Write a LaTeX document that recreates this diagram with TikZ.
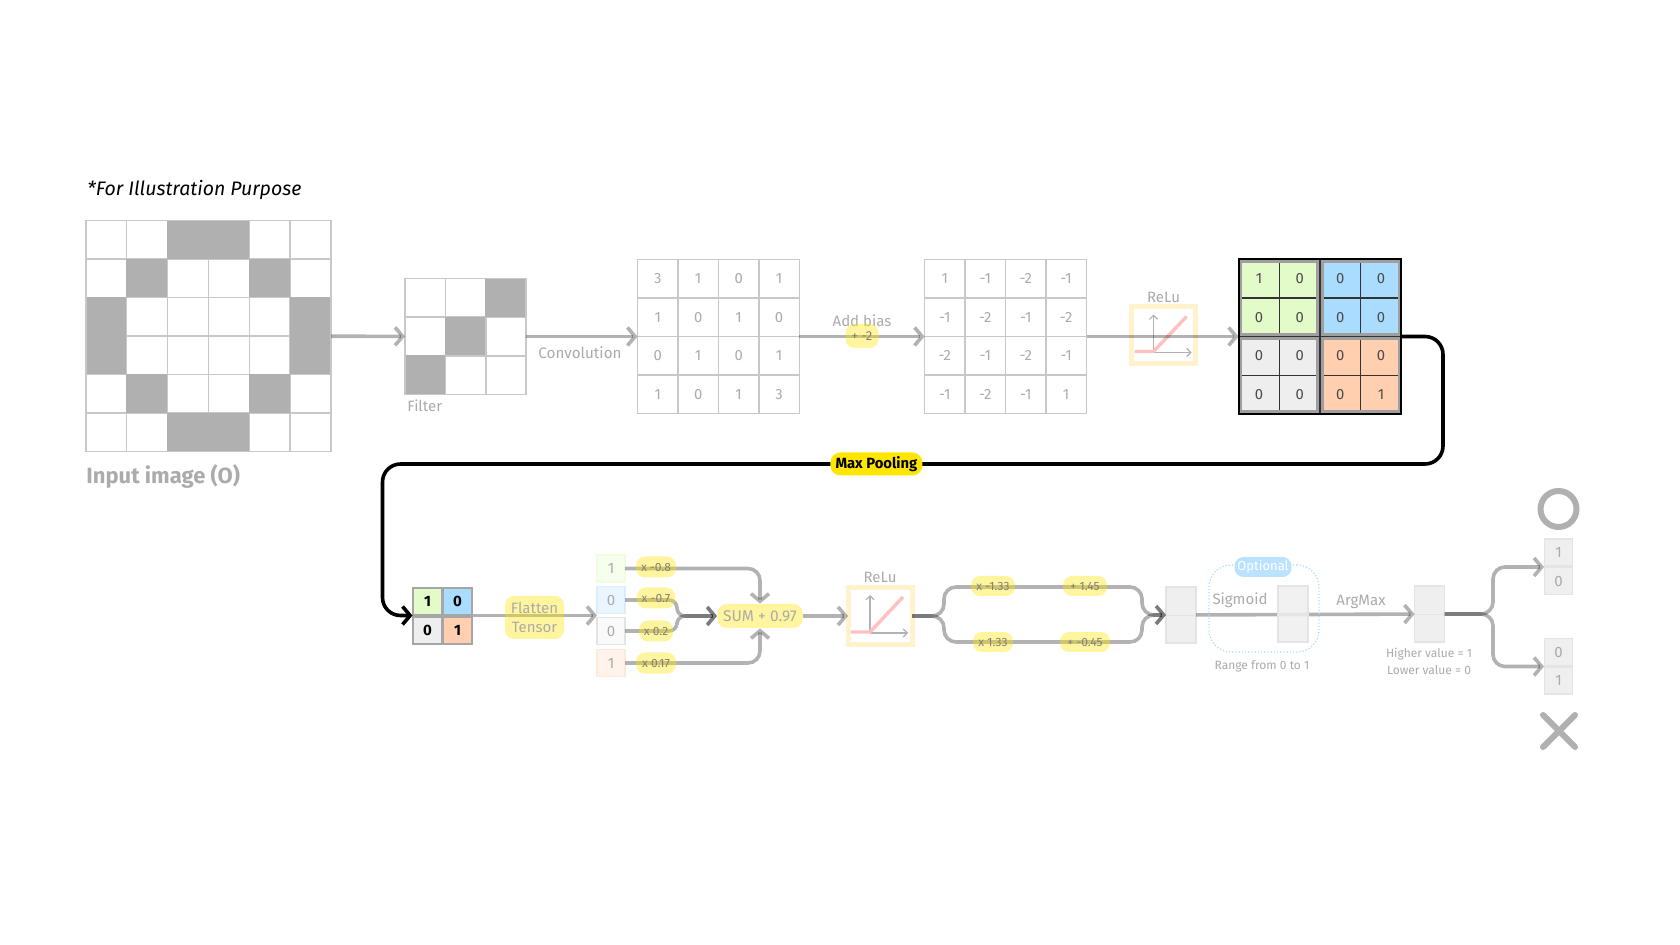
\documentclass[tikz,border=0pt]{standalone}
\usepackage{fontspec}
\setmainfont{Fira Sans}
\usetikzlibrary{arrows.meta, positioning}
\definecolor{inkgray}{HTML}{ABABAB}
\definecolor{gridline}{HTML}{C8C8C8}
\definecolor{cellgray}{HTML}{B0B0B0}
\definecolor{paleline}{HTML}{E4E4E4}
\definecolor{paper}{HTML}{EFEFEF}
\definecolor{leaf}{HTML}{E2FBC8}
\definecolor{sky}{HTML}{AADCFF}
\definecolor{stone}{HTML}{EEEEEE}
\definecolor{peach}{HTML}{FFCFB0}
\definecolor{marker}{HTML}{FFE600}
\definecolor{cream}{HTML}{FFF2CC}
\definecolor{pinkline}{HTML}{FFC0C0}

\begin{document}
\begin{tikzpicture}[x=0.5pt, y=-0.5pt,
    cell/.style={rectangle, draw=gridline, line width=0.7pt, minimum width=20.2pt, minimum height=19.2pt, inner sep=0pt, outer sep=0pt, text=inkgray, font=\fontsize{7.4}{8}\selectfont},
    pix0/.style={fill=white},
    pix1/.style={fill=cellgray, draw=cellgray},
    frame/.style={rectangle, draw=#1, line width=0.7pt, inner sep=0pt, outer sep=0pt},
    group/.style={rectangle, draw=gray!75, line width=1.5pt, minimum width=38.6pt, minimum height=36.8pt},
    small/.style={rectangle, draw=gray!70, line width=0.7pt, minimum width=14.5pt, minimum height=13.5pt, inner sep=0pt, font=\fontsize{7.5}{8}\selectfont\bfseries},
    pale/.style={rectangle, draw=#1, line width=0.8pt, minimum width=14pt, minimum height=13.6pt, inner sep=0pt, outer sep=0pt, text=inkgray, font=\fontsize{7.5}{8}\selectfont},
    column/.style={rectangle, draw=paleline, fill=paper, line width=0.7pt, minimum width=15pt, minimum height=28pt, inner sep=0pt, outer sep=0pt},
    flow/.style={draw=black, draw opacity=0.3, line width=1.8pt, rounded corners=6pt, -{Straight Barb[length=3.8pt, width=9pt, line width=1.8pt]}},
    caption/.style={text=inkgray, inner sep=0pt, font=\fontsize{#1}{#1}\selectfont},
    caption/.default=7.5,
    tag/.style={rectangle, rounded corners=4.5pt, fill=marker, fill opacity=0.38, text opacity=1, text=gray, inner sep=1.5pt, font=\fontsize{6}{6.5}\selectfont},
    activation/.style={rectangle, draw=cream, fill=white, line width=2.5pt, minimum width=32pt, minimum height=28.5pt, outer sep=0pt}
]
\fill[white] (0,0) rectangle (1680,945);

\node[anchor=west, inner sep=0pt, font=\fontsize{9.75}{10}\selectfont\itshape] (note) at (87,190) {*For Illustration Purpose};

% input image and filter
\foreach \v [count=\i from 0] in {0,0,1,1,0,0, 0,1,0,0,1,0, 1,0,0,0,0,1, 1,0,0,0,0,1, 0,1,0,0,1,0, 0,0,1,1,0,0}
    \node[cell, pix\v, minimum width=20.4pt] (input-\i) at ({85.7+40.9*(mod(\i,6)+.5)}, {220.7+38.5*(int(\i/6)+.5)}) {};
\node[frame=gridline, minimum width=122.6pt, minimum height=115.5pt] (input) at (208.4,336) {};
\node[caption=11, anchor=west, font=\fontsize{11}{11}\selectfont\bfseries] (inputlabel) at (86,476) {Input image (O)};

\foreach \v [count=\i from 0] in {0,0,1, 0,1,0, 1,0,0}
    \node[cell, pix\v] (filter-\i) at ({405+40.4*(mod(\i,3)+.5)}, {278.6+38.6*(int(\i/3)+.5)}) {};
\node[frame=gridline, minimum width=60.5pt, minimum height=57.8pt] (filter) at (465.5,336.5) {};
\node[caption, anchor=west] (filterlabel) at (407,406) {Filter};
\node[caption=7.6] (convlabel) at (580,353) {Convolution};

% convolved and biased grids
\foreach \v [count=\i from 0] in {3,1,0,1, 1,0,1,0, 0,1,0,1, 1,0,1,3}
    \node[cell] (conv-\i) at ({637.5+40.45*(mod(\i,4)+.5)}, {259.3+38.6*(int(\i/4)+.5)}) {\v};
\node[frame=gridline, minimum width=81pt, minimum height=77.2pt] (conv) at (718.4,336.5) {};

\foreach \v [count=\i from 0] in {1,-1,-2,-1, -1,-2,-1,-2, -2,-1,-2,-1, -1,-2,-1,1}
    \node[cell] (biased-\i) at ({924.6+40.45*(mod(\i,4)+.5)}, {259.3+38.6*(int(\i/4)+.5)}) {\v};
\node[frame=gridline, minimum width=81pt, minimum height=77.2pt] (biased) at (1005.5,336.5) {};

% rectified grid
\foreach \v/\tone [count=\i from 0] in {1/leaf,0/leaf,0/sky,0/sky, 0/leaf,0/leaf,0/sky,0/sky, 0/stone,0/stone,0/peach,0/peach, 0/stone,0/stone,0/peach,1/peach}
    \node[cell, draw=black!80, line width=0.4pt, fill=\tone, text=black!70] (rect-\i) at ({1238.6+40.7*(mod(\i,4)+.5)}, {259.3+38.6*(int(\i/4)+.5)}) {\v};
\foreach \gx/\gy [count=\i] in {1279.3/298, 1360.7/298, 1279.3/375.2, 1360.7/375.2}
    \node[group] (rectgroup-\i) at (\gx,\gy) {};
\node[frame=black, line width=1pt, minimum width=81.4pt, minimum height=77.2pt] (rectified) at (1320,336.5) {};

% activation boxes
\node[activation] (relua) at (1163.5,335.5) {};
\node[activation] (relub) at (880,616) {};
\foreach \b in {relua, relub} {
    \begin{scope}[shift={(\b)}]
        \draw[gray!60, line width=0.6pt, -{Straight Barb[length=2pt, width=4pt]}] (-10,17) -- (-10,-21);
        \draw[gray!60, line width=0.6pt, -{Straight Barb[length=2pt, width=4pt]}] (-10,17) -- (28,17);
        \draw[pinkline, line width=1.7pt] (-29,16) -- (-10,16) -- (23,-19);
    \end{scope}
}
\node[caption, above=1.8pt of relua] (reluatext) {ReLu};
\node[caption, above=2.4pt of relub] (relubtext) {ReLu};

% first row connectors
\draw[flow] (input) -- (filter);
\draw[flow] (filter) -- (conv);
\draw[flow] (conv) -- (biased);
\draw[flow] (biased) -- (rectified);
\node[caption] (biaslabel) at (862,321) {Add bias};
\node[tag, minimum width=16.5pt, minimum height=12pt, font=\fontsize{6.5}{7}\selectfont] (bias) at (862,336) {+ -2};

% pooled grid
\node[small, fill=leaf] (pool-1) at (427.5,601.5) {1};
\node[small, fill=sky] (pool-2) at (457.5,601.5) {0};
\node[small, fill=stone] (pool-3) at (427.5,630.5) {0};
\node[small, fill=peach] (pool-4) at (457.5,630.5) {1};
\path (412.5,615.5) coordinate (poolin) (472.5,615.5) coordinate (poolout);

\coordinate (turnright) at (1443,464);
\coordinate (turnleft) at (382.5,464);
\draw[black, line width=1.8pt, rounded corners=9pt, -{Straight Barb[length=3.8pt, width=9pt, line width=1.8pt]}] (rectified) -| (turnright) -- (turnleft) |- (poolin);
\node[rectangle, rounded corners=5pt, fill=marker, inner sep=0pt, minimum width=46pt, minimum height=11.5pt, font=\fontsize{7.4}{8}\selectfont\bfseries] (maxpool) at (876.4,464) {Max Pooling};

% flattened tensor
\node[pale=leaf!55, fill=leaf!30] (flat-1) at (611,568.5) {1};
\node[pale=sky!45, fill=sky!25] (flat-2) at (611,600) {0};
\node[pale=paleline, fill=stone!30] (flat-3) at (611,631) {0};
\node[pale=peach!45, fill=peach!25] (flat-4) at (611,663) {1};
\coordinate (flatin) at (597,615.5);
\draw[flow] (poolout) -- (flatin);
\node[tag, text=inkgray, align=center, minimum width=29.5pt, minimum height=21.5pt, font=\fontsize{7.5}{9.8}\selectfont] (flatten) at (534.5,617.5) {Flatten\\Tensor};

\node[tag, text=inkgray, minimum width=42.5pt, minimum height=12pt, font=\fontsize{7.8}{8}\selectfont] (sum) at (760,616) {SUM + 0.97};
\coordinate (sumfork) at (677,616);
\draw[flow] (flat-1.east) -| (sum.north);
\draw[flow] (flat-4.east) -| (sum.south);
\draw[flow, rounded corners=4pt] (flat-2.east) -| (sumfork) -- (sum.west);
\draw[flow, rounded corners=4pt] (flat-3.east) -| (sumfork) -- (sum.west);
\draw[flow] (sum) -- (relub);
\node[tag, minimum width=20pt, minimum height=10.5pt] (w1) at (656,567) {x -0.8};
\node[tag, minimum width=19pt, minimum height=10.5pt] (w2) at (656,598) {x -0.7};
\node[tag, minimum width=17pt, minimum height=10.5pt] (w3) at (656,631) {x 0.2};
\node[tag, minimum width=20pt, minimum height=10.5pt] (w4) at (656,663) {x 0.17};

% dense layer
\node[column] (cola) at (1181,615) {};
\draw[paleline] (cola.west) -- (cola.east);
\coordinate (upleft) at (944,587);
\coordinate (upright) at (1142,615);
\coordinate (lowleft) at (944,642);
\coordinate (lowright) at (1142,615);
\draw[flow] (relub.east) -| (upleft) -| (upright) -- (cola.west);
\draw[flow] (relub.east) -| (lowleft) -| (lowright) -- (cola.west);
\node[tag, minimum width=22pt, minimum height=10pt] (d1) at (993,586) {x -1.33};
\node[tag, minimum width=22pt, minimum height=10pt] (d2) at (1085,586) {+ 1.45};
\node[tag, minimum width=20pt, minimum height=10pt] (d3) at (993,642) {x 1.33};
\node[tag, minimum width=25pt, minimum height=10pt] (d4) at (1085,642) {+ -0.45};

% sigmoid and argmax
\node[column] (colc) at (1429.5,614) {};
\draw[paleline] (colc.west) -- (colc.east);
\draw[flow] (cola) -- (colc);
\node[column, fill opacity=0.85] (colb) at (1293,614) {};
\draw[paleline] (colb.west) -- (colb.east);
\node[rectangle, draw=sky, densely dotted, line width=0.6pt, rounded corners=11pt, minimum width=55pt, minimum height=43.5pt] (optionalbox) at (1264,608.5) {};
\node[rectangle, rounded corners=4.5pt, fill=sky!80, text=white, inner sep=0pt, minimum width=28.5pt, minimum height=10pt, font=\fontsize{6.5}{7}\selectfont] (optional) at (1263,567) {Optional};
\node[caption] (sigmoid) at (1240,600) {Sigmoid};
\node[caption=6] (rangetext) at (1262,666.5) {Range from 0 to 1};
\node[caption] (argmax) at (1361,602) {ArgMax};
\node[caption=6] (highertext) at (1429,654.5) {Higher value = 1};
\node[caption=6] (lowertext) at (1429,670) {Lower value = 0};

% outputs
\node[pale=paleline, fill=paper] (outa-1) at (1558.5,552.5) {1};
\node[pale=paleline, fill=paper] (outa-2) at (1558.5,581) {0};
\node[pale=paleline, fill=paper] (outb-1) at (1558.5,652) {0};
\node[pale=paleline, fill=paper] (outb-2) at (1558.5,680.5) {1};
\path (1544,567) coordinate (outa) (1544,666.5) coordinate (outb);
\coordinate (outfork) at (1493,614);
\draw[flow] (colc.east) -- (outfork) |- (outa);
\draw[flow] (colc.east) -- (outfork) |- (outb);

\node[circle, draw=cellgray, line width=3pt, minimum size=18pt, inner sep=0pt] (circleout) at (1558.5,509) {};
\path (1543,715) coordinate (xa) (1575,747) coordinate (xb) (1543,747) coordinate (xc) (1575,715) coordinate (xd);
\draw[cellgray, line width=3pt, line cap=round] (xa) -- (xb) (xc) -- (xd);
\end{tikzpicture}
\end{document}
